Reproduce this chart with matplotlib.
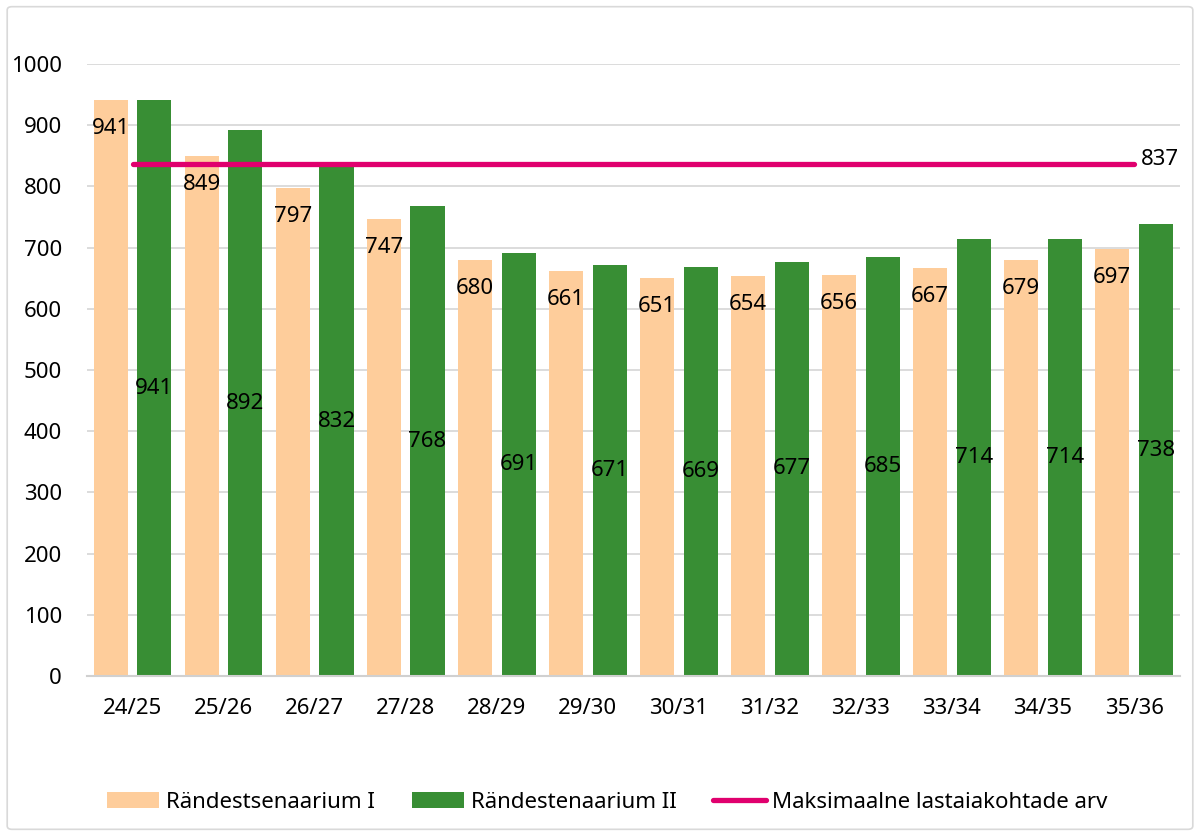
import matplotlib
matplotlib.use("Agg")
import matplotlib.pyplot as plt
from matplotlib.patches import FancyBboxPatch
from matplotlib.lines import Line2D
from matplotlib.patches import Patch
import numpy as np

plt.rcParams['font.family'] = ['Noto Sans', 'DejaVu Sans']

categories = ["24/25", "25/26", "26/27", "27/28", "28/29", "29/30",
              "30/31", "31/32", "32/33", "33/34", "34/35", "35/36"]
scenario_1 = [941, 849, 797, 747, 680, 661, 651, 654, 656, 667, 679, 697]
scenario_2 = [941, 892, 832, 768, 691, 671, 669, 677, 685, 714, 714, 738]
max_places = 837
yticks = [0, 100, 200, 300, 400, 500, 600, 700, 800, 900, 1000]

c_orange = "#FECD9B"
c_green = "#388E34"
c_pink = "#E0006E"
FS = 16

fig = plt.figure(figsize=(12, 8.36), dpi=100)
fig.patches.append(FancyBboxPatch((0.006, 0.008), 0.988, 0.984,
                                  boxstyle="round,pad=0,rounding_size=0.004",
                                  transform=fig.transFigure, facecolor="white",
                                  edgecolor="#d9d9d9", linewidth=1.2, zorder=-10))
ax = fig.add_axes([0.0725, 0.1914, 0.9105, 0.732])
ax.set_facecolor("none")

x = np.arange(len(categories))
w = 0.375
off = 0.24
ax.bar(x - off, scenario_1, width=w, color=c_orange, zorder=2)
ax.bar(x + off, scenario_2, width=w, color=c_green, zorder=2)

ax.plot([x[0], x[-1]], [max_places, max_places], color=c_pink, linewidth=3.8,
        solid_capstyle="round", zorder=4)
ax.annotate(str(max_places), (x[-1], max_places), xytext=(5, 3),
            textcoords="offset points", ha="left", va="center", fontsize=FS,
            annotation_clip=False)

for xi, v in zip(x, scenario_1):
    ax.annotate(str(v), (xi - off, v), xytext=(0, -20.5), textcoords="offset points",
                ha="center", va="center", fontsize=FS, zorder=5)
for xi, v in zip(x, scenario_2):
    ax.text(xi + off, v / 2, str(v), ha="center", va="center", fontsize=FS, zorder=5)

ax.set_xlim(-0.5, len(categories) - 0.5)
ax.set_ylim(0, 1000)
ax.set_yticks(yticks)
ax.set_yticklabels([str(t) for t in yticks], fontsize=FS)
ax.set_xticks(x)
ax.set_xticklabels(categories, fontsize=FS)
ax.tick_params(axis="both", length=0)
ax.tick_params(axis="x", pad=16)
ax.tick_params(axis="y", pad=18)
ax.grid(axis="y", color="#d9d9d9", linewidth=1.3, zorder=0)
ax.set_axisbelow(True)
for s in ["top", "right", "left"]:
    ax.spines[s].set_visible(False)
ax.spines["bottom"].set_color("#d0d0d0")
ax.spines["bottom"].set_linewidth(1.5)

handles = [Patch(facecolor=c_orange, edgecolor="none"),
           Patch(facecolor=c_green, edgecolor="none"),
           Line2D([0], [0], color=c_pink, linewidth=3.8, solid_capstyle="round")]
labels = ["Rändestsenaarium I", "Rändestenaarium II", "Maksimaalne lastaiakohtade arv"]
fig.legend(handles, labels, loc="center", bbox_to_anchor=(0.506, 0.04), ncol=3,
           frameon=False, fontsize=FS, handlelength=2.35, handleheight=0.75,
           columnspacing=1.67, handletextpad=0.3)

fig.savefig("out.png", dpi=100)
